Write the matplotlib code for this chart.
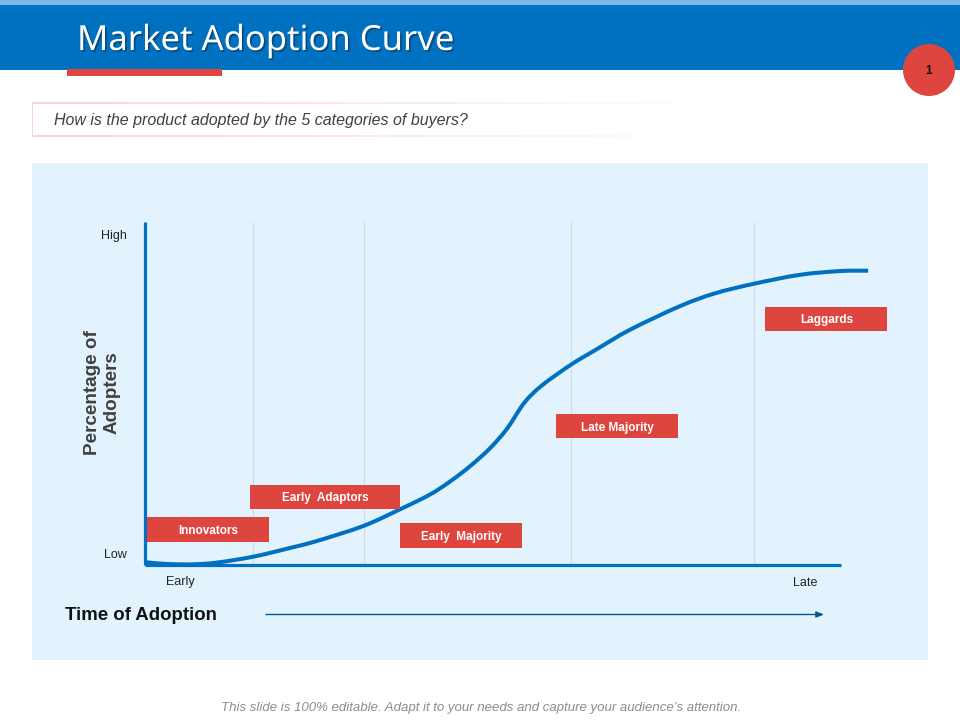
import numpy as np
import matplotlib
matplotlib.use("Agg")
import matplotlib.pyplot as plt
import matplotlib.patheffects as pe
from matplotlib.patches import Rectangle, Circle, PathPatch
from matplotlib.path import Path

# ---- data (percent of chart width / height) ----
curve_time = [0.2, 3.1, 6.8, 10.3, 15.5, 20.3, 24.7, 31.4, 36.6, 40.9, 43.8, 46.7, 49.5, 52.0, 54.5, 57.0,
              61.2, 64.9, 69.7, 76.9, 81.9, 87.5, 94.1, 99.9, 103.9]
curve_adopters = [0.8, 0.3, 0.2, 0.7, 2.4, 4.7, 7.0, 11.4, 16.2, 20.5, 24.3, 28.8, 33.9, 39.7, 47.3, 52.3,
                  58.4, 62.9, 68.6, 75.5, 79.2, 82.0, 84.6, 85.7, 85.8]
stage_boundaries = [15.5, 31.5, 61.2, 87.5]
stage_labels = ["Innovators", "Early  Adaptors", "Early  Majority", "Late Majority", "Laggards"]
title = "Market Adoption Curve"
question = "How is the product adopted by the 5 categories of buyers?"
footer = "This slide is 100% editable. Adapt it to your needs and capture your audience\u2019s attention."
y_ticks = ["Low", "High"]
x_ticks = ["Early", "Late"]

BLUE = "#0070C0"
RED = "#DE453E"
PANEL = "#E3F3FE"
W, H = 960, 720
plt.rcParams["font.family"] = ["Liberation Sans", "DejaVu Sans"]

fig = plt.figure(figsize=(9.6, 7.2), dpi=100, facecolor="white")

# background layer in pixel coordinates
bg = fig.add_axes([0, 0, 1, 1], zorder=0)
bg.set_xlim(0, W); bg.set_ylim(H, 0); bg.axis("off")

def rect(ax, x0, y0, x1, y1, color, z=1):
    ax.add_patch(Rectangle((x0, y0), x1 - x0, y1 - y0, fc=color, ec="none", zorder=z))

rect(bg, 0, 0, W, 70, BLUE)
rect(bg, 0, 0, W, 5, "#7FB7E4", 2)
rect(bg, 67, 69, 222, 76, RED, 2)
rect(bg, 32, 163, 928, 660, PANEL)

bg.text(77, 41, title, color="white", fontsize=24.9, family="Noto Sans", va="center", ha="left", zorder=3,
        path_effects=[pe.withSimplePatchShadow(offset=(1.2, -1.2), shadow_rgbFace="#0A3A60", alpha=0.7)])

# question box with a border that fades out to the right
grad = np.ones((1, 256, 4))
grad[..., :3] = matplotlib.colors.to_rgb("#F8D5D3")
grad[..., 3] = np.linspace(1, 0, 256)
for y0, y1 in [(102.6, 103.8), (135.6, 136.8)]:
    bg.imshow(grad, extent=(32, 720, y1, y0), aspect="auto", zorder=2, interpolation="bilinear")
rect(bg, 32, 103, 33.2, 136.6, "#F8D5D3", 2)
bg.set_xlim(0, W); bg.set_ylim(H, 0)
bg.text(54.5, 120.5, question, style="italic", fontsize=11.5, color="#404040", va="center", ha="left", zorder=3)

bg.text(481, 708, footer, style="italic", fontsize=9.5, color="#8C8C8C", va="center", ha="center", zorder=3)

# chart axes
ax = fig.add_axes([145 / W, 1 - 565 / H, (841 - 145) / W, (565 - 222) / H], zorder=2)
ax.patch.set_alpha(0)
ax.set_xlim(0, 100); ax.set_ylim(0, 100)
for s in ("top", "right"):
    ax.spines[s].set_visible(False)
for s in ("left", "bottom"):
    ax.spines[s].set_color(BLUE); ax.spines[s].set_linewidth(2.3); ax.spines[s].set_capstyle("butt")
ax.set_xticks([]); ax.set_yticks([])
ax.vlines(stage_boundaries, 0, 100, color="#C6E0F0", lw=0.9, zorder=1)

# smooth line through the read points (Catmull-Rom as Bezier segments)
pts = np.column_stack([curve_time, curve_adopters])
ext = np.vstack([pts[0], pts, pts[-1]])
verts = [pts[0]]
codes = [Path.MOVETO]
for i in range(1, len(ext) - 2):
    verts += [ext[i] + (ext[i + 1] - ext[i - 1]) / 6, ext[i + 1] - (ext[i + 2] - ext[i]) / 6, ext[i + 1]]
    codes += [Path.CURVE4] * 3
ax.add_patch(PathPatch(Path(verts, codes), fc="none", ec=BLUE, lw=2.9, capstyle="butt", joinstyle="round",
                       clip_on=False, zorder=3))

# foreground layer in pixel coordinates
fg = fig.add_axes([0, 0, 1, 1], zorder=3)
fg.set_xlim(0, W); fg.set_ylim(H, 0); fg.axis("off"); fg.patch.set_alpha(0)

boxes = [(147, 517, 269, 542), (250, 485, 400, 509), (400, 523, 522, 548), (556, 414, 678, 438), (765, 307, 887, 331)]
for (x0, y0, x1, y1), lab in zip(boxes, stage_labels):
    rect(fg, x0, y0, x1, y1, RED, 2)
    fg.text((x0 + x1) / 2 + 0.5, (y0 + y1) / 2 + 1.5, lab, color="white", fontsize=8.45, fontweight="bold",
            ha="center", va="center", zorder=3)

fg.add_patch(Circle((929, 70), 26, fc=RED, ec="none", zorder=4))
fg.text(928.5, 71.5, "1", color="#111111", fontsize=8.5, fontweight="bold", ha="center", va="center", zorder=5)

fg.text(127, 555, y_ticks[0], fontsize=9, color="#222222", ha="right", va="center")
fg.text(127, 236, y_ticks[1], fontsize=9, color="#222222", ha="right", va="center")
fg.text(180, 585.5, x_ticks[0], fontsize=9, color="#222222", ha="center", va="baseline")
fg.text(805, 585.5, x_ticks[1], fontsize=9, color="#222222", ha="center", va="baseline")

fg.text(102, 393, "Percentage of\nAdopters", rotation=90, fontsize=13.6, fontweight="bold", color="#404040",
        ha="center", va="center", linespacing=1.2, multialignment="center")
fg.text(65, 615, "Time of Adoption", fontsize=13.4, fontweight="bold", color="#111111", ha="left", va="center")
fg.annotate("", xy=(824, 614.5), xytext=(266, 614.5),
            arrowprops=dict(arrowstyle="-|>,head_length=0.45,head_width=0.18", color="#00589B", lw=1.0,
                            shrinkA=0, shrinkB=0))

fig.savefig("out.png", dpi=100)
